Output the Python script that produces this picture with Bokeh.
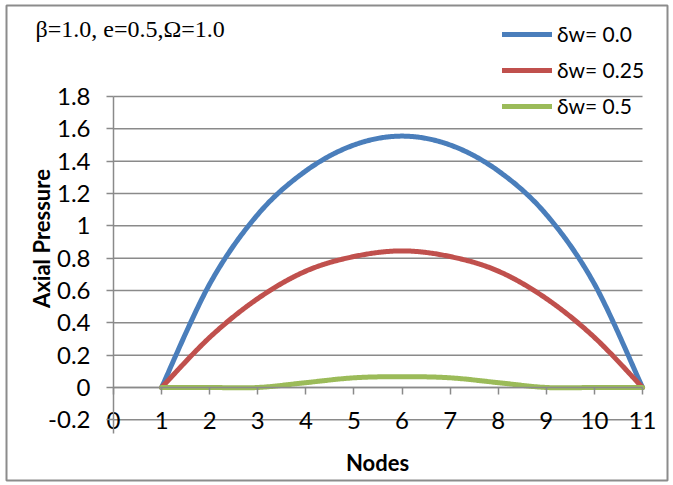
import numpy as np
from bokeh.plotting import figure
from bokeh.models import Legend, LegendItem, Label, FixedTicker
from bokeh.embed import file_html
from bokeh.resources import INLINE

# ---------------- data ----------------
nodes = [1, 2, 3, 4, 5, 6, 7, 8, 9, 10, 11]
dw_00 = [0.0, 0.64, 1.07, 1.34, 1.50, 1.555, 1.50, 1.34, 1.07, 0.64, 0.0]
dw_025 = [0.0, 0.31, 0.55, 0.72, 0.81, 0.845, 0.81, 0.72, 0.55, 0.31, 0.0]
dw_05 = [0.0, 0.0, 0.0, 0.03, 0.06, 0.067, 0.06, 0.03, 0.0, 0.0, 0.0]
series_names = ["δw= 0.0", "δw= 0.25", "δw= 0.5"]
series_colors = ["#4A7EBB", "#C0504D", "#9BBB59"]

x_ticks = [0, 1, 2, 3, 4, 5, 6, 7, 8, 9, 10, 11]
y_ticks = [-0.2, 0.0, 0.2, 0.4, 0.6, 0.8, 1.0, 1.2, 1.4, 1.6, 1.8]
y_tick_labels = ["-0.2", "0", "0.2", "0.4", "0.6", "0.8", "1", "1.2", "1.4", "1.6", "1.8"]

title_text = "β=1.0, e=0.5,Ω=1.0"
x_title = "Nodes"
y_title = "Axial Pressure"


def smooth(xs, ys, n=40):
    """Excel-like smoothed line (Catmull-Rom style cubic Bezier)."""
    P = np.column_stack([xs, ys]).astype(float)
    out = []
    m = len(P)
    for i in range(m - 1):
        p0 = P[i - 1] if i > 0 else P[i]
        p1 = P[i]
        p2 = P[i + 1]
        p3 = P[i + 2] if i + 2 < m else P[i + 1]
        c1 = p1 + (p2 - p0) / 6.0
        c2 = p2 - (p3 - p1) / 6.0
        t = np.linspace(0, 1, n, endpoint=(i == m - 2))[:, None]
        B = (1 - t) ** 3 * p1 + 3 * (1 - t) ** 2 * t * c1 + 3 * (1 - t) * t ** 2 * c2 + t ** 3 * p2
        out.append(B)
    B = np.vstack(out)
    return B[:, 0], B[:, 1]


# ---------------- geometry (pixels) ----------------
W, H = 673, 485
FL, FR, FT, FB = 6, 667, 5, 480          # chart border = frame
PX0, PX11 = 113, 642                     # pixel of x=0 and x=11
PY18, PY0 = 96, 387                      # pixel of y=1.8 and y=0
xs_per = (PX11 - PX0) / 11.0
ys_per = (PY0 - PY18) / 1.8
x_start = (FL - PX0) / xs_per
x_end = 11 + (FR - PX11) / xs_per
y_end = 1.8 + (PY18 - FT) / ys_per
y_start = -(FB - PY0) / ys_per
y_axis_bottom = -(433 - PY0) / ys_per


def dx(px):
    return (px - PX0) / xs_per


def dy(py):
    return (PY0 - py) / ys_per


GRID = "#8a8a8a"

p = figure(width=W, height=H, x_range=(x_start, x_end), y_range=(y_start, y_end),
           output_backend="svg", toolbar_location=None,
           min_border_left=FL, min_border_right=W - FR, min_border_top=FT, min_border_bottom=H - FB)
p.outline_line_color = "#8c8c8c"
p.outline_line_width = 2
p.background_fill_color = "white"
p.border_fill_color = "white"
p.xgrid.visible = False
p.ygrid.visible = False

# horizontal gridlines between x = first and last tick
p.segment(x0=[x_ticks[0]] * len(y_ticks), x1=[x_ticks[-1]] * len(y_ticks),
          y0=y_ticks, y1=y_ticks, line_color=GRID, line_width=1.5)

# y axis at x = 0
ya = p.yaxis[0]
ya.fixed_location = 0
ya.bounds = (y_axis_bottom, y_ticks[-1])
ya.ticker = FixedTicker(ticks=y_ticks)
ya.major_label_overrides = {t: l for t, l in zip(y_ticks, y_tick_labels)}
ya.axis_line_color = GRID
ya.axis_line_width = 1.5
ya.major_tick_line_color = GRID
ya.major_tick_line_width = 1.5
ya.major_tick_in = 0
ya.major_tick_out = 7
ya.minor_tick_line_color = None
ya.major_label_text_font = "Lato"
ya.major_label_text_font_size = "24px"
ya.major_label_text_color = "black"
ya.major_label_standoff = 16

# x axis at y = 0
xa = p.xaxis[0]
xa.fixed_location = 0
xa.bounds = (x_ticks[0], x_ticks[-1])
xa.ticker = FixedTicker(ticks=x_ticks)
xa.axis_line_color = GRID
xa.axis_line_width = 1.5
xa.major_tick_line_color = GRID
xa.major_tick_line_width = 1.5
xa.major_tick_in = 0
xa.major_tick_out = 7
xa.minor_tick_line_color = None
xa.major_label_text_font = "Lato"
xa.major_label_text_font_size = "24px"
xa.major_label_text_color = "black"
xa.major_label_standoff = 17

# series
renderers = []
for ys, col in zip([dw_00, dw_025, dw_05], series_colors):
    sx, sy = smooth(nodes, ys)
    r = p.line(sx, sy, line_color=col, line_width=5, line_cap="round", line_join="round")
    renderers.append(r)

legend = Legend(items=[LegendItem(label=n, renderers=[r]) for n, r in zip(series_names, renderers)],
                location=(502 - FL, FB - 118), orientation="vertical",
                glyph_width=50, glyph_height=22, label_height=22, spacing=11,
                label_standoff=5, padding=0, margin=0,
                border_line_color=None, background_fill_alpha=0,
                label_text_font="Lato", label_text_font_size="21px", label_text_color="black")
p.add_layout(legend, "center")

# texts
p.add_layout(Label(x=dx(35), y=dy(28), text=title_text, text_font="Liberation Serif",
                   text_font_size="24px", text_color="black", text_baseline="middle"))
p.add_layout(Label(x=dx(377), y=dy(462), text=x_title, text_font="Lato", text_font_style="bold",
                   text_font_size="22px", text_color="black", text_align="center",
                   text_baseline="middle"))
p.add_layout(Label(x=dx(41), y=dy(238), text=y_title, text_font="Lato", text_font_style="bold",
                   text_font_size="22px", text_color="black", text_align="center",
                   text_baseline="middle", angle=np.pi / 2))

open("out.html", "w").write(file_html(p, INLINE))
